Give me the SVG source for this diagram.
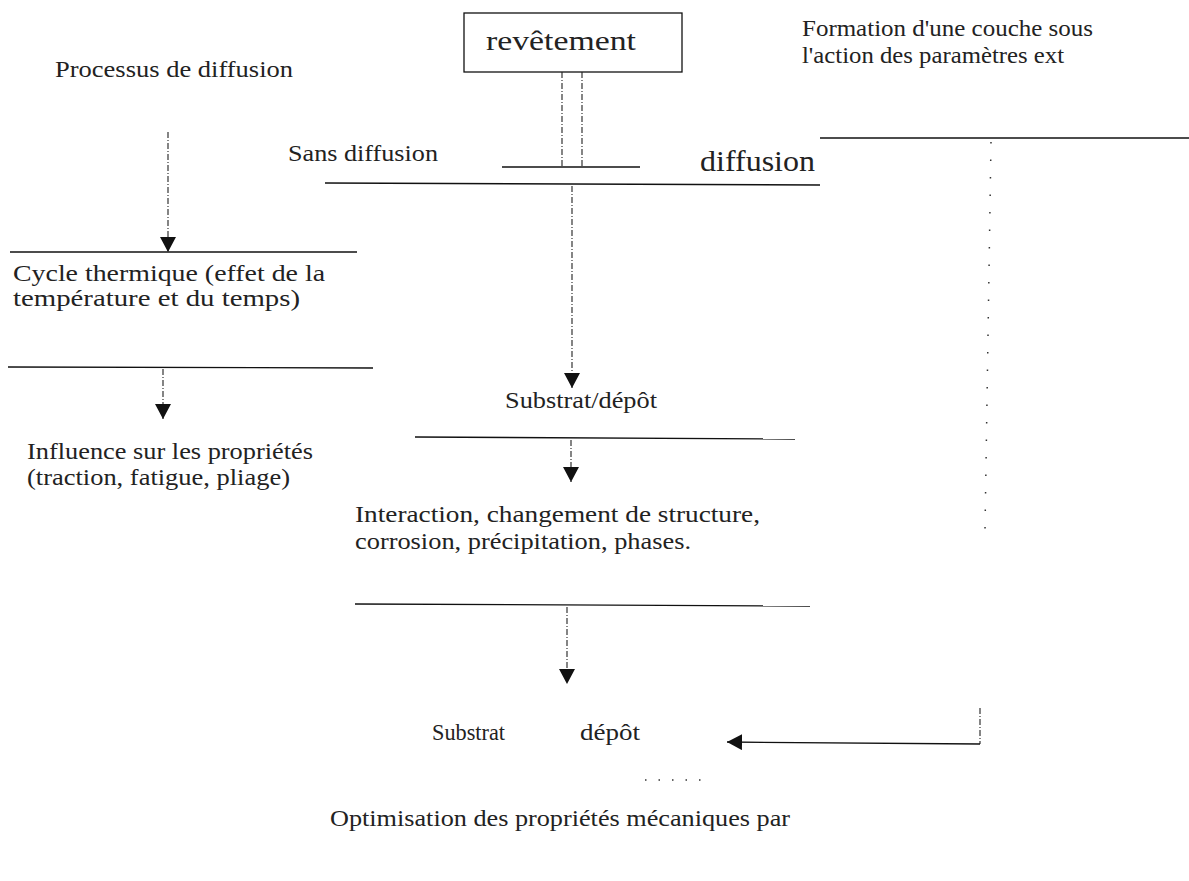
<svg xmlns="http://www.w3.org/2000/svg" width="1189" height="881" viewBox="0 0 1189 881">
<style>
text{font-family:"Liberation Serif","Times New Roman",serif;fill:#222;font-size:23px}
.ln{stroke:#111;stroke-width:1.3;fill:none}
.dash{stroke:#222;stroke-width:1.1;fill:none;stroke-dasharray:6 2 1 2}
.dot{stroke:#333;stroke-width:1.5;fill:none;stroke-dasharray:1.5 16}
.big{font-size:28px}
.huge{font-size:30px}
</style>
<defs>
<marker id="ah" viewBox="0 0 15 16" refX="15" refY="8" markerWidth="15" markerHeight="16" markerUnits="userSpaceOnUse" orient="auto">
<path d="M0,0 L15,8 L0,16 Z" fill="#111"/>
</marker>
</defs>
<rect width="1189" height="881" fill="#fff"/>
<g id="n-processus"><text x="55" y="77" textLength="238" lengthAdjust="spacingAndGlyphs">Processus de diffusion</text></g>
<g id="n-revetement"><rect x="464" y="13" width="218" height="59" class="ln"/><text class="big" x="486" y="50" textLength="150" lengthAdjust="spacingAndGlyphs">revêtement</text></g>
<g id="n-formation"><text x="802" y="36" textLength="291" lengthAdjust="spacingAndGlyphs">Formation d'une couche sous</text><text x="802" y="63" textLength="262" lengthAdjust="spacingAndGlyphs">l'action des paramètres ext</text><line class="ln" x1="820" y1="138" x2="1189" y2="138"/></g>
<g id="n-sans"><text x="288" y="161" textLength="150" lengthAdjust="spacingAndGlyphs">Sans diffusion</text></g>
<g id="n-diffusion"><text class="huge" x="700" y="171" textLength="115" lengthAdjust="spacingAndGlyphs">diffusion</text></g>
<g id="n-split"><line class="ln" x1="502" y1="167" x2="640" y2="167"/><line class="ln" x1="325" y1="183" x2="820" y2="185"/></g>
<g id="n-cycle"><line class="ln" x1="10" y1="252" x2="357" y2="252"/><text x="13" y="281" textLength="312" lengthAdjust="spacingAndGlyphs">Cycle thermique (effet de la</text><text x="13" y="306" textLength="287" lengthAdjust="spacingAndGlyphs">température et du temps)</text><line class="ln" x1="8" y1="367" x2="373" y2="368"/></g>
<g id="n-influence"><text x="27" y="459" textLength="286" lengthAdjust="spacingAndGlyphs">Influence sur les propriétés</text><text x="27" y="485" textLength="263" lengthAdjust="spacingAndGlyphs">(traction, fatigue, pliage)</text></g>
<g id="n-substrat-depot"><text x="505" y="408" textLength="152" lengthAdjust="spacingAndGlyphs">Substrat/dépôt</text><line class="ln" x1="415" y1="437" x2="795" y2="439"/></g>
<g id="n-interaction"><text x="355" y="522" textLength="405" lengthAdjust="spacingAndGlyphs">Interaction, changement de structure,</text><text x="355" y="549" textLength="336" lengthAdjust="spacingAndGlyphs">corrosion, précipitation, phases.</text><line class="ln" x1="355" y1="604" x2="810" y2="606"/></g>
<g id="n-substrat"><text x="432" y="740" textLength="73" lengthAdjust="spacingAndGlyphs">Substrat</text><text x="580" y="740" textLength="60" lengthAdjust="spacingAndGlyphs">dépôt</text></g>
<g id="n-optimisation"><text x="330" y="826" textLength="460" lengthAdjust="spacingAndGlyphs">Optimisation des propriétés mécaniques par</text></g>
<g id="connectors">
<line class="dash" x1="562" y1="72" x2="562" y2="167"/>
<line class="dash" x1="582" y1="72" x2="582" y2="167"/>
<line class="dash" x1="168" y1="132" x2="168" y2="252" marker-end="url(#ah)"/>
<line class="dash" x1="163" y1="369" x2="163" y2="419" marker-end="url(#ah)"/>
<line class="dash" x1="572" y1="186" x2="572" y2="388" marker-end="url(#ah)"/>
<line class="dash" x1="571" y1="440" x2="571" y2="482" marker-end="url(#ah)"/>
<line class="dash" x1="567" y1="607" x2="567" y2="684" marker-end="url(#ah)"/>
<path class="dot" d="M991,142 L985,530"/>
<path class="dash" d="M980,708 L980,744"/>
<line class="ln" x1="980" y1="744" x2="727" y2="742" marker-end="url(#ah)"/>
<path class="dot" d="M645,780 L712,780" style="stroke-dasharray:1.5 12"/>
</g>
</svg>
